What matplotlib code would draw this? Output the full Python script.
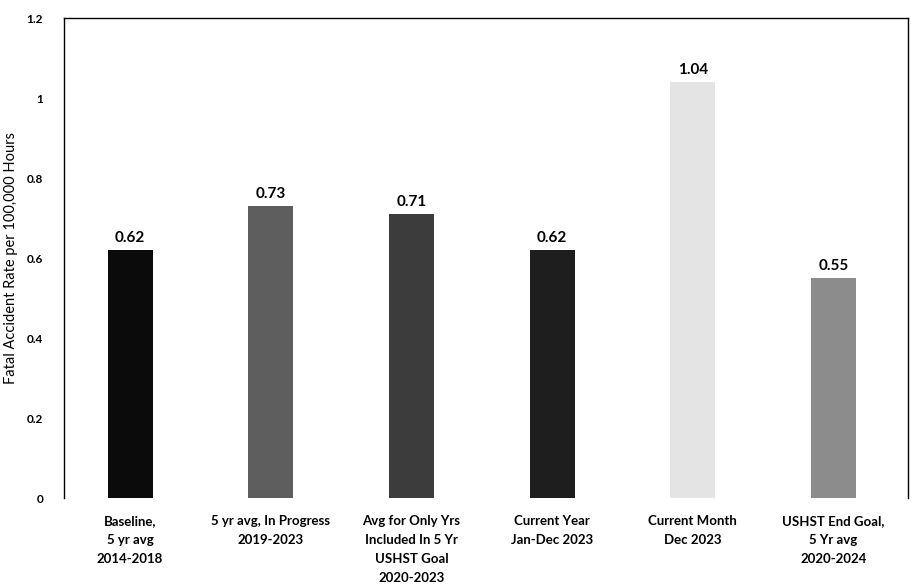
import matplotlib.pyplot as plt
import numpy as np

# values
categories = ["Baseline,\n5 yr avg\n2014-2018",
              "5 yr avg, In Progress\n2019-2023",
              "Avg for Only Yrs\nIncluded In 5 Yr\nUSHST Goal\n2020-2023",
              "Current Year\nJan-Dec 2023",
              "Current Month\nDec 2023",
              "USHST End Goal,\n5 Yr avg\n2020-2024"]
rates = [0.62, 0.73, 0.71, 0.62, 1.04, 0.55]
bar_colors = ["#0b0b0b", "#5e5e5e", "#3c3c3c", "#1e1e1e", "#e4e4e4", "#8c8c8c"]
yticks = [0, 0.2, 0.4, 0.6, 0.8, 1, 1.2]

plt.rcParams['font.family'] = ['Lato', 'DejaVu Sans']

fig = plt.figure(figsize=(9.13, 5.86), dpi=100)
ax = fig.add_axes([0.070, 0.150, 0.9245, 0.819])

x = np.arange(len(rates))
ax.bar(x, rates, width=0.32, color=bar_colors)

for xi, r in zip(x, rates):
    ax.text(xi, r + 0.012, "%.2f" % r, ha='center', va='bottom',
            fontsize=11, fontweight='bold')

ax.set_xlim(-0.47, 5.53)
ax.set_ylim(0, 1.2)
ax.set_yticks(yticks)
ax.set_yticklabels([("%g" % t) for t in yticks], fontsize=8.5, fontweight='bold')
ax.set_xticks(x)
ax.set_xticklabels(categories, fontsize=9.5, fontweight='bold', linespacing=1.7)
ax.tick_params(length=0)
ax.tick_params(axis='x', pad=12)
ax.tick_params(axis='y', pad=15)
ax.set_ylabel("Fatal Accident Rate per 100,000 Hours", fontsize=10.5, labelpad=6)

ax.spines['bottom'].set_visible(False)
for s in ['left', 'top', 'right']:
    ax.spines[s].set_linewidth(1.0)
    ax.spines[s].set_color('black')

fig.savefig("out.png", dpi=100)
